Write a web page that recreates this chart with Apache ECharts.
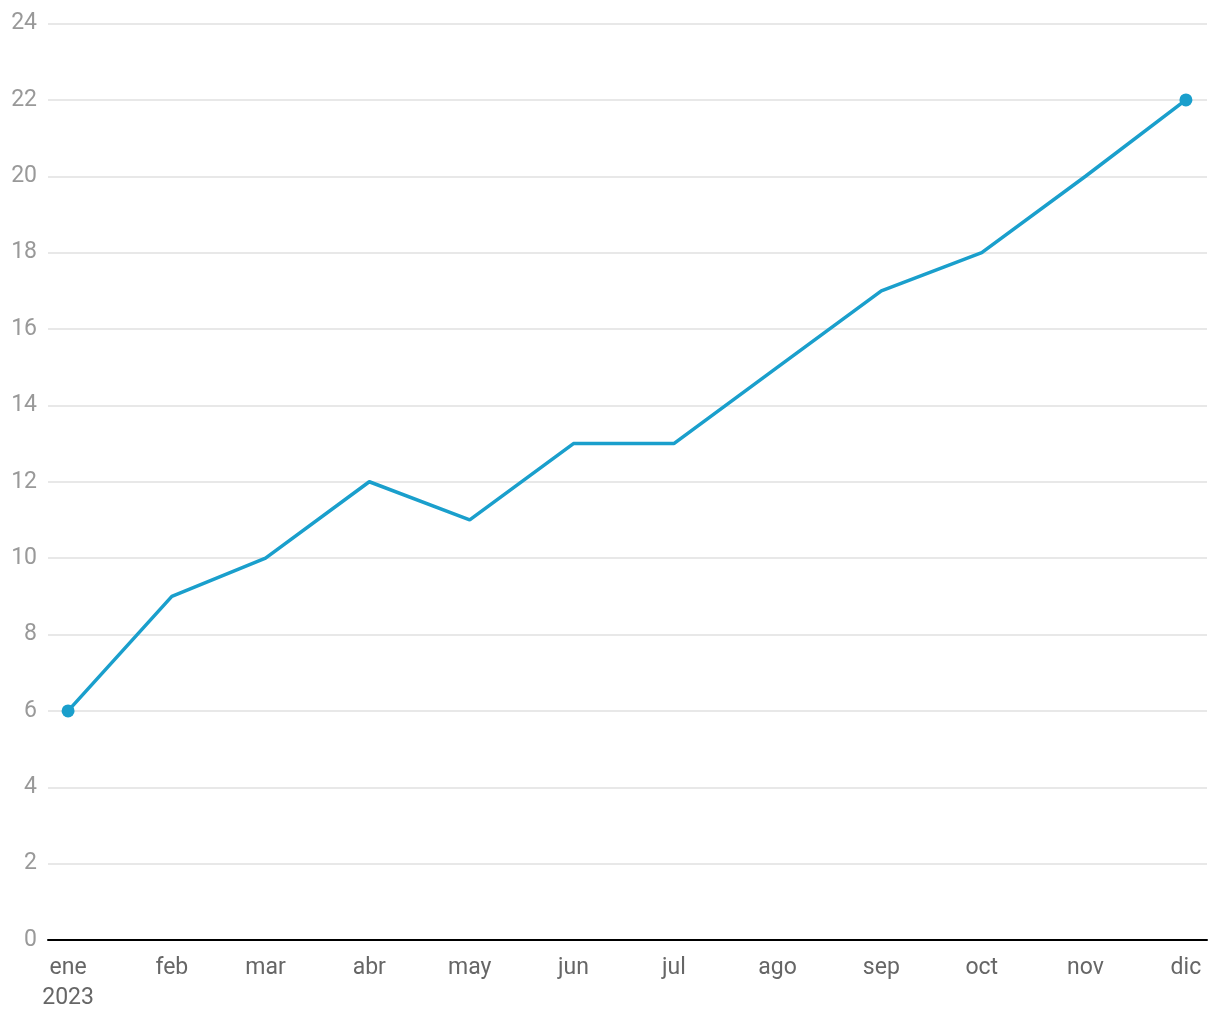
<!DOCTYPE html>
<html>
<head>
<meta charset="utf-8">
<script src="https://cdn.jsdelivr.net/npm/echarts@6/dist/echarts.min.js"></script>
<style>html,body{margin:0;padding:0;background:#fff}#c{width:1220px;height:1020px}</style>
</head>
<body>
<div id="c"></div>
<script>
const months = ['2023-01-01','2023-02-01','2023-03-01','2023-04-01','2023-05-01','2023-06-01','2023-07-01','2023-08-01','2023-09-01','2023-10-01','2023-11-01','2023-12-01'];
const values = [6, 9, 10, 12, 11, 13, 13, 15, 17, 18, 20, 22];
const monthLabels = ['ene','feb','mar','abr','may','jun','jul','ago','sep','oct','nov','dic'];
const yTicks = [0, 2, 4, 6, 8, 10, 12, 14, 16, 18, 20, 22, 24];

function toTime(s){ const p = s.split('-').map(Number); return new Date(p[0], p[1]-1, p[2]).getTime(); }
const data = months.map((m, i) => ({
  value: [toTime(m), values[i]],
  symbol: (i === 0 || i === months.length - 1) ? 'circle' : 'none'
}));
const DAY = 86400000;
const chart = echarts.init(document.getElementById('c'));
chart.setOption({
  animation: false,
  grid: { left: 48, right: 13, top: 23.5, bottom: 80, containLabel: false },
  xAxis: {
    type: 'time',
    min: toTime(months[0]) - 6 * DAY,
    max: toTime(months[months.length - 1]) + 6.3 * DAY,
    splitNumber: 12,
    minInterval: 28 * DAY,
    axisLine: { show: true, lineStyle: { color: '#000', width: 2 } },
    axisTick: { show: false },
    splitLine: { show: false },
    axisLabel: {
      fontFamily: 'Roboto', fontSize: 23, color: '#666', margin: 13, lineHeight: 30,
      hideOverlap: false, showMinLabel: false, showMaxLabel: false,
      formatter: function (v) {
        const d = new Date(v);
        if (d.getDate() !== 1) return '';
        const l = monthLabels[d.getMonth()];
        return d.getMonth() === 0 ? l + '\n' + d.getFullYear() : l;
      }
    }
  },
  yAxis: {
    type: 'value', min: yTicks[0], max: yTicks[yTicks.length - 1], interval: 2,
    axisLine: { show: false }, axisTick: { show: false },
    splitLine: { lineStyle: { color: '#e0e0e0', width: 1.5 } },
    axisLabel: { fontFamily: 'Roboto', fontSize: 23, color: '#999', margin: 11 }
  },
  series: [{
    type: 'line', data: data, symbolSize: 13,
    lineStyle: { color: '#1a9fcc', width: 3.5 },
    itemStyle: { color: '#1a9fcc' }
  }]
});
</script>
</body>
</html>
